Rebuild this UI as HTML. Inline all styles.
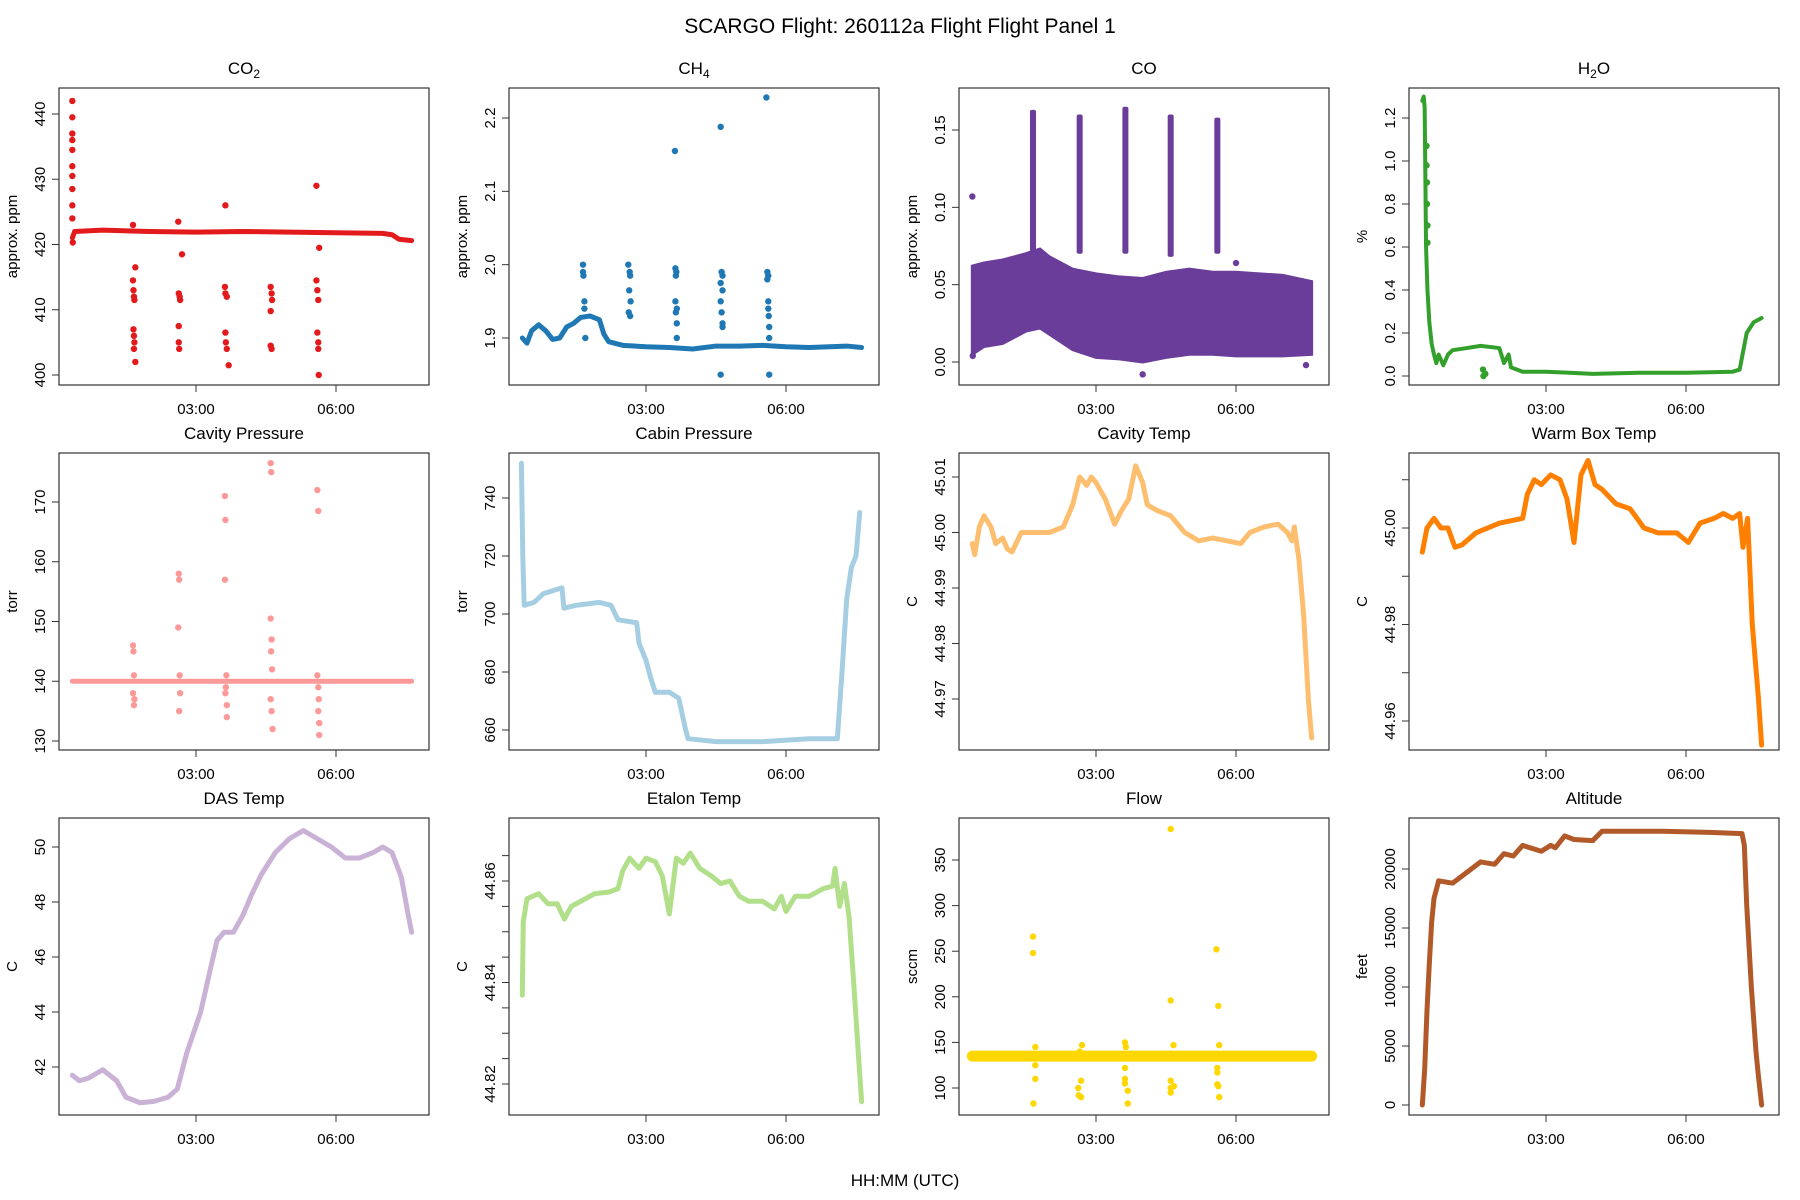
<!DOCTYPE html>
<html><head><meta charset="utf-8"><style>
html,body{margin:0;padding:0;background:#fff}
svg{display:block;font-family:"Liberation Sans",sans-serif}
</style></head><body>
<svg id="chart" width="1800" height="1200" viewBox="0 0 1800 1200" xmlns="http://www.w3.org/2000/svg">
<text x="900" y="33" text-anchor="middle" font-size="21">SCARGO Flight: 260112a  Flight Flight  Panel 1</text>
<text x="905" y="1186" text-anchor="middle" font-size="17">HH:MM (UTC)</text>
</svg>
<script>
const xTickLabels = ["03:00","06:00"];
const xTickHours = [3,6];

const co2Line = [[0.35,421],[0.4,422],[1,422.2],[2,422],[3,421.9],[4,422],[5,421.9],[6,421.8],[7,421.7],[7.2,421.5],[7.35,420.8],[7.62,420.6]];
const co2Pts = [[0.35,442],[0.35,439.5],[0.35,437],[0.35,436],[0.35,434.5],[0.35,432],[0.35,430.5],[0.35,428.5],[0.35,426],[0.35,424],[0.36,420.3],
 [1.65,414.5],[1.66,413],[1.67,412],[1.68,411.5],[1.66,407],[1.67,406],[1.68,405],[1.67,404],[1.7,402],[1.7,416.5],[1.65,423],
 [2.63,412.5],[2.65,412],[2.66,411.5],[2.63,407.5],[2.63,405],[2.64,404],[2.7,418.5],[2.62,423.5],
 [3.62,413.5],[3.63,412.5],[3.66,412],[3.63,406.5],[3.64,405],[3.66,404],[3.7,401.5],[3.63,426],
 [4.6,413.5],[4.62,412.5],[4.63,411.5],[4.6,409.8],[4.6,404.5],[4.62,404],
 [5.58,414.5],[5.6,413],[5.62,411.5],[5.6,406.5],[5.62,405],[5.62,404],[5.63,400],[5.58,429],[5.64,419.5]];

const ch4Line = [[0.35,1.9],[0.45,1.893],[0.55,1.91],[0.7,1.918],[0.85,1.91],[1.0,1.898],[1.15,1.9],[1.3,1.915],[1.45,1.92],[1.6,1.928],[1.8,1.93],[2.0,1.925],[2.1,1.905],[2.2,1.895],[2.5,1.89],[3.0,1.888],[3.5,1.887],[4.0,1.885],[4.5,1.889],[5.0,1.889],[5.5,1.89],[6.0,1.888],[6.5,1.887],[7.3,1.889],[7.62,1.887]];
const ch4Pts = [[1.65,2.0],[1.65,1.99],[1.66,1.985],[1.68,1.95],[1.68,1.94],[1.7,1.9],
 [2.62,2.0],[2.65,1.99],[2.66,1.985],[2.64,1.965],[2.67,1.95],[2.63,1.935],[2.66,1.93],
 [3.62,2.155],[3.63,1.995],[3.65,1.99],[3.64,1.985],[3.63,1.95],[3.66,1.94],[3.64,1.935],[3.66,1.92],[3.66,1.90],
 [4.6,2.188],[4.62,1.99],[4.64,1.985],[4.6,1.975],[4.64,1.965],[4.6,1.95],[4.62,1.935],[4.64,1.92],[4.64,1.915],[4.6,1.85],
 [5.58,2.228],[5.6,1.99],[5.62,1.985],[5.6,1.98],[5.62,1.95],[5.62,1.94],[5.63,1.93],[5.64,1.915],[5.64,1.90],[5.64,1.85]];

const coBandT = [0.35,0.6,1.0,1.5,1.8,2.0,2.5,3.0,3.5,4.0,4.5,5.0,5.5,6.0,6.5,7.0,7.62];
const coBandLo = [0.005,0.01,0.012,0.02,0.022,0.018,0.008,0.003,0.002,0.0,0.003,0.005,0.005,0.004,0.004,0.004,0.005];
const coBandHi = [0.062,0.064,0.066,0.07,0.073,0.068,0.06,0.057,0.055,0.054,0.058,0.06,0.058,0.058,0.057,0.056,0.052];
const coSpikes = [[1.65,0.07,0.163],[2.65,0.07,0.16],[3.63,0.07,0.165],[4.6,0.068,0.16],[5.6,0.07,0.158]];
const coPts = [[0.35,0.107],[0.36,0.004],[4.0,-0.008],[6.0,0.064],[7.5,-0.002]];

const h2oLine = [[0.35,1.28],[0.38,1.3],[0.4,1.25],[0.43,0.6],[0.46,0.4],[0.5,0.25],[0.55,0.15],[0.6,0.1],[0.65,0.06],[0.7,0.1],[0.8,0.05],[0.9,0.1],[1.0,0.12],[1.3,0.13],[1.6,0.14],[2.0,0.13],[2.1,0.06],[2.2,0.1],[2.25,0.04],[2.5,0.02],[3.0,0.02],[3.5,0.015],[4.0,0.01],[5.0,0.015],[6.0,0.015],[7.0,0.02],[7.15,0.03],[7.3,0.2],[7.45,0.25],[7.62,0.27]];
const h2oPts = [[0.44,1.07],[0.44,0.98],[0.45,0.9],[0.45,0.8],[0.46,0.7],[0.46,0.62],[1.65,0.03],[1.66,0.0],[1.7,0.01]];

const cavPLine = [[0.35,140],[7.62,140]];
const cavPPts = [[1.65,146],[1.66,145],[1.67,141],[1.65,138],[1.68,137],[1.67,136],
 [2.63,158],[2.64,157],[2.62,149],[2.65,141],[2.66,138],[2.64,135],
 [3.62,171],[3.63,167],[3.62,157],[3.65,141],[3.64,139],[3.63,138],[3.66,136],[3.66,134],
 [4.6,176.5],[4.61,175],[4.6,150.5],[4.62,147],[4.61,145],[4.63,142],[4.6,137],[4.62,135],[4.64,132],
 [5.6,172],[5.62,168.5],[5.6,141],[5.62,139],[5.63,137],[5.62,135],[5.64,133],[5.64,131]];

const cabinLine = [[0.33,752],[0.36,720],[0.39,703],[0.6,704],[0.8,707],[1.0,708],[1.2,709],[1.24,702],[1.5,703],[2.0,704],[2.25,703],[2.4,698],[2.8,697],[2.85,690],[3.0,684],[3.1,678],[3.2,673],[3.5,673],[3.7,671],[3.85,660],[3.9,657],[4.5,656],[5.5,656],[6.5,657],[7.1,657],[7.2,680],[7.3,705],[7.4,716],[7.5,720],[7.58,735]];

const cavTLine = [[0.35,44.998],[0.4,44.996],[0.5,45.001],[0.6,45.003],[0.75,45.001],[0.85,44.998],[1.0,44.999],[1.1,44.997],[1.2,44.9965],[1.4,45.0],[1.6,45.0],[2.0,45.0],[2.3,45.001],[2.5,45.005],[2.65,45.010],[2.8,45.0085],[2.9,45.010],[3.0,45.009],[3.2,45.006],[3.4,45.0015],[3.55,45.004],[3.7,45.006],[3.85,45.012],[4.0,45.009],[4.1,45.005],[4.3,45.004],[4.6,45.003],[4.9,45.0],[5.2,44.9985],[5.5,44.999],[5.8,44.9985],[6.1,44.998],[6.3,45.0],[6.6,45.001],[6.9,45.0015],[7.1,45.0],[7.2,44.9985],[7.25,45.001],[7.35,44.995],[7.45,44.985],[7.55,44.97],[7.62,44.963]];

const warmLine = [[0.35,44.995],[0.45,45.0],[0.6,45.002],[0.75,45.0],[0.9,45.0],[1.05,44.996],[1.2,44.9965],[1.5,44.999],[2.0,45.001],[2.5,45.002],[2.6,45.007],[2.75,45.010],[2.9,45.009],[3.1,45.011],[3.3,45.010],[3.45,45.006],[3.6,44.997],[3.75,45.011],[3.9,45.014],[4.05,45.009],[4.2,45.008],[4.5,45.005],[4.8,45.004],[5.1,45.0],[5.4,44.999],[5.8,44.999],[6.05,44.997],[6.3,45.001],[6.6,45.002],[6.8,45.003],[7.0,45.002],[7.15,45.003],[7.22,44.996],[7.32,45.002],[7.42,44.98],[7.55,44.965],[7.62,44.955]];

const dasLine = [[0.35,41.7],[0.5,41.5],[0.7,41.6],[1.0,41.9],[1.3,41.5],[1.5,40.9],[1.8,40.7],[2.1,40.75],[2.4,40.9],[2.6,41.2],[2.8,42.5],[3.1,44.0],[3.3,45.5],[3.45,46.6],[3.6,46.9],[3.8,46.9],[4.0,47.5],[4.2,48.3],[4.4,49.0],[4.7,49.8],[5.0,50.3],[5.3,50.6],[5.6,50.3],[5.9,50.0],[6.2,49.6],[6.5,49.6],[6.8,49.8],[7.0,50.0],[7.2,49.8],[7.4,48.9],[7.55,47.5],[7.62,46.9]];

const etalonLine = [[0.35,44.8375],[0.37,44.852],[0.45,44.8565],[0.7,44.8575],[0.9,44.8555],[1.1,44.8555],[1.25,44.8525],[1.4,44.855],[1.6,44.856],[1.9,44.8575],[2.2,44.8578],[2.4,44.8585],[2.5,44.862],[2.65,44.8645],[2.85,44.8625],[3.0,44.8645],[3.2,44.8638],[3.35,44.861],[3.5,44.8535],[3.65,44.8645],[3.8,44.8635],[3.95,44.8655],[4.15,44.8625],[4.4,44.861],[4.6,44.8595],[4.8,44.860],[5.0,44.857],[5.2,44.856],[5.5,44.856],[5.75,44.8545],[5.9,44.857],[6.0,44.854],[6.2,44.857],[6.5,44.857],[6.8,44.8585],[7.0,44.859],[7.05,44.8625],[7.15,44.855],[7.25,44.8595],[7.35,44.853],[7.45,44.84],[7.55,44.826],[7.62,44.8165]];

const flowLine = [[0.35,135],[7.62,135]];
const flowPts = [[1.65,266],[1.65,248],[1.66,83],[1.7,110],[1.7,125],[1.7,145],
 [2.62,100],[2.63,92],[2.68,90],[2.68,108],[2.7,147],[2.65,140],
 [3.62,150],[3.64,145],[3.62,122],[3.62,110],[3.62,105],[3.68,97],[3.68,83],
 [4.6,384],[4.6,196],[4.66,147],[4.6,108],[4.6,100],[4.67,102],[4.6,95],
 [5.58,252],[5.62,190],[5.64,147],[5.6,122],[5.6,117],[5.6,104],[5.62,102],[5.64,90]];

const altLine = [[0.35,0],[0.4,3000],[0.45,8000],[0.5,12000],[0.55,15500],[0.6,17500],[0.7,19000],[1.0,18800],[1.3,19700],[1.6,20600],[1.9,20400],[2.1,21300],[2.3,21100],[2.5,22000],[2.9,21500],[3.1,22000],[3.2,21800],[3.4,22800],[3.6,22500],[4.0,22400],[4.2,23200],[5.5,23200],[6.5,23100],[7.2,23000],[7.25,22000],[7.3,17000],[7.4,10000],[7.5,4500],[7.55,2500],[7.62,0]];

const NS="http://www.w3.org/2000/svg";
const svg=document.getElementById('chart');
const colLeft=[59,509,959,1409], rowTop=[88,453,818], W=370, H=297;
function mk(tag,attrs,parent){const e=document.createElementNS(NS,tag);for(const k in attrs)e.setAttribute(k,attrs[k]);(parent||svg).appendChild(e);return e;}

const panels=[
 {key:'co2',title:['CO','2'],col:'#E31A1C',ylab:'approx. ppm',ref:[440,26,400,287],ticks:[400,410,420,430,440],fmt:v=>String(v),line:co2Line,pts:co2Pts},
 {key:'ch4',title:['CH','4'],col:'#1F78B4',ylab:'approx. ppm',ref:[2.2,30,1.9,250],ticks:[1.9,2.0,2.1,2.2],fmt:v=>v.toFixed(1),line:ch4Line,pts:ch4Pts},
 {key:'co',title:['CO',''],col:'#6A3D9A',ylab:'approx. ppm',ref:[0.15,42,0,274],ticks:[0,0.05,0.1,0.15],fmt:v=>v.toFixed(2),band:true,pts:coPts},
 {key:'h2o',title:['H','2','O'],col:'#33A02C',ylab:'%',ref:[1.2,30,0,288],ticks:[0,0.2,0.4,0.6,0.8,1.0,1.2],fmt:v=>v.toFixed(1),line:h2oLine,pts:h2oPts,lw:4},
 {key:'cavity-pressure',title:['Cavity Pressure'],col:'#FB9A99',ylab:'torr',ref:[170,49,130,288],ticks:[130,140,150,160,170],fmt:v=>String(v),line:cavPLine,pts:cavPPts},
 {key:'cabin-pressure',title:['Cabin Pressure'],col:'#A6CEE3',ylab:'torr',ref:[740,45,660,277],ticks:[660,680,700,720,740],fmt:v=>String(v),line:cabinLine},
 {key:'cavity-temp',title:['Cavity Temp'],col:'#FDBF6F',ylab:'C',ref:[45.01,24,44.97,246],ticks:[44.97,44.98,44.99,45.0,45.01],fmt:v=>v.toFixed(2),line:cavTLine},
 {key:'warm-box-temp',title:['Warm Box Temp'],col:'#FF7F00',ylab:'C',ref:[45.0,75,44.96,268],ticks:[44.96,44.97,44.98,44.99,45.0,45.01],lab:[true,false,true,false,true,false],fmt:v=>v.toFixed(2),line:warmLine},
 {key:'das-temp',title:['DAS Temp'],col:'#CAB2D6',ylab:'C',ref:[50,29,42,249],ticks:[42,44,46,48,50],fmt:v=>String(v),line:dasLine},
 {key:'etalon-temp',title:['Etalon Temp'],col:'#B2DF8A',ylab:'C',ref:[44.86,63,44.82,266],ticks:[44.82,44.825,44.83,44.835,44.84,44.845,44.85,44.855,44.86,44.865],lab:[true,false,false,false,true,false,false,false,true,false],fmt:v=>v.toFixed(2),line:etalonLine},
 {key:'flow',title:['Flow'],col:'#FFD700',ylab:'sccm',ref:[350,42,100,270],ticks:[100,150,200,250,300,350],fmt:v=>String(v),line:flowLine,pts:flowPts,lw:11},
 {key:'altitude',title:['Altitude'],col:'#B15928',ylab:'feet',ref:[20000,51,0,287],ticks:[0,5000,10000,15000,20000],fmt:v=>String(v),line:altLine}
];

panels.forEach((p,i)=>{
 const L=colLeft[i%4], T=rowTop[Math.floor(i/4)];
 const xs=t=>L+137+(t-3)*46.67;
 const ys=v=>T+p.ref[1]+(v-p.ref[0])*(p.ref[3]-p.ref[1])/(p.ref[2]-p.ref[0]);
 const g=mk('g',{});
 
 
 const clipId='clip'+i;
 const cp=mk('clipPath',{id:clipId},g); mk('rect',{x:L,y:T,width:W,height:H},cp);
 const data=mk('g',{'clip-path':'url(#'+clipId+')'},g);
 
 
 if(p.band){
  let d='M'+coBandT.map((t,k)=>xs(t)+','+ys(coBandHi[k])).join('L');
  for(let k=coBandT.length-1;k>=0;k--) d+='L'+xs(coBandT[k])+','+ys(coBandLo[k]);
  const b=mk('path',{d:d+'Z',fill:p.col,stroke:p.col,'stroke-width':3},data);
  
  
  coSpikes.forEach(s=>{
   const r=mk('rect',{x:xs(s[0])-3,y:ys(s[2]),width:6,height:ys(s[1])-ys(s[2]),fill:p.col,rx:2},data);
   
   
  });
 }
 if(p.line){
  const pl=mk('polyline',{points:p.line.map(q=>xs(q[0])+','+ys(q[1])).join(' '),fill:'none',stroke:p.col,'stroke-width':p.lw||5,'stroke-linejoin':'round','stroke-linecap':'round'},data);
  
  
 }
 (p.pts||[]).forEach(q=>{
  const c=mk('circle',{cx:xs(q[0]),cy:ys(q[1]),r:3.2,fill:p.col},data);
  
  
 });
 const box=mk('rect',{x:L,y:T,width:W,height:H,fill:'none',stroke:'#333','stroke-width':1.2},g);
 
 
 const tt=mk('text',{x:L+W/2,y:T-14,'text-anchor':'middle','font-size':17},g);
 
 
 tt.appendChild(document.createTextNode(p.title[0]));
 if(p.title.length>1 && p.title[1]){const s=mk('tspan',{'font-size':12,dy:4},tt);s.textContent=p.title[1];}
 if(p.title.length>2){const s=mk('tspan',{dy:-4},tt);s.textContent=p.title[2];}
 const yv=p.ticks.map(ys);
 const ya=mk('line',{x1:L,x2:L,y1:Math.min(...yv),y2:Math.max(...yv),stroke:'#333'},g);
 
 
 p.ticks.forEach((v,k)=>{
  const y=ys(v);
  mk('line',{x1:L-7,x2:L,y1:y,y2:y,stroke:'#333'},g);
  if(p.lab && !p.lab[k]) return;
  const t=mk('text',{x:L-14,y:y,'text-anchor':'middle','font-size':15,transform:`rotate(-90 ${L-14} ${y})`},g);
  
  
  t.textContent=p.fmt(v);
 });
 const yl=mk('text',{x:L-42,y:T+H/2,'text-anchor':'middle','font-size':15,transform:`rotate(-90 ${L-42} ${T+H/2})`},g);
 
 
 yl.textContent=p.ylab;
 const xa=mk('line',{x1:xs(xTickHours[0]),x2:xs(xTickHours[xTickHours.length-1]),y1:T+H,y2:T+H,stroke:'#333'},g);
 
 
 xTickHours.forEach((h,k)=>{
  const x=xs(h);
  mk('line',{x1:x,x2:x,y1:T+H,y2:T+H+7,stroke:'#333'},g);
  const t=mk('text',{x:x,y:T+H+29,'text-anchor':'middle','font-size':15},g);
  
  
  t.textContent=xTickLabels[k];
 });
});
</script>
</body></html>
